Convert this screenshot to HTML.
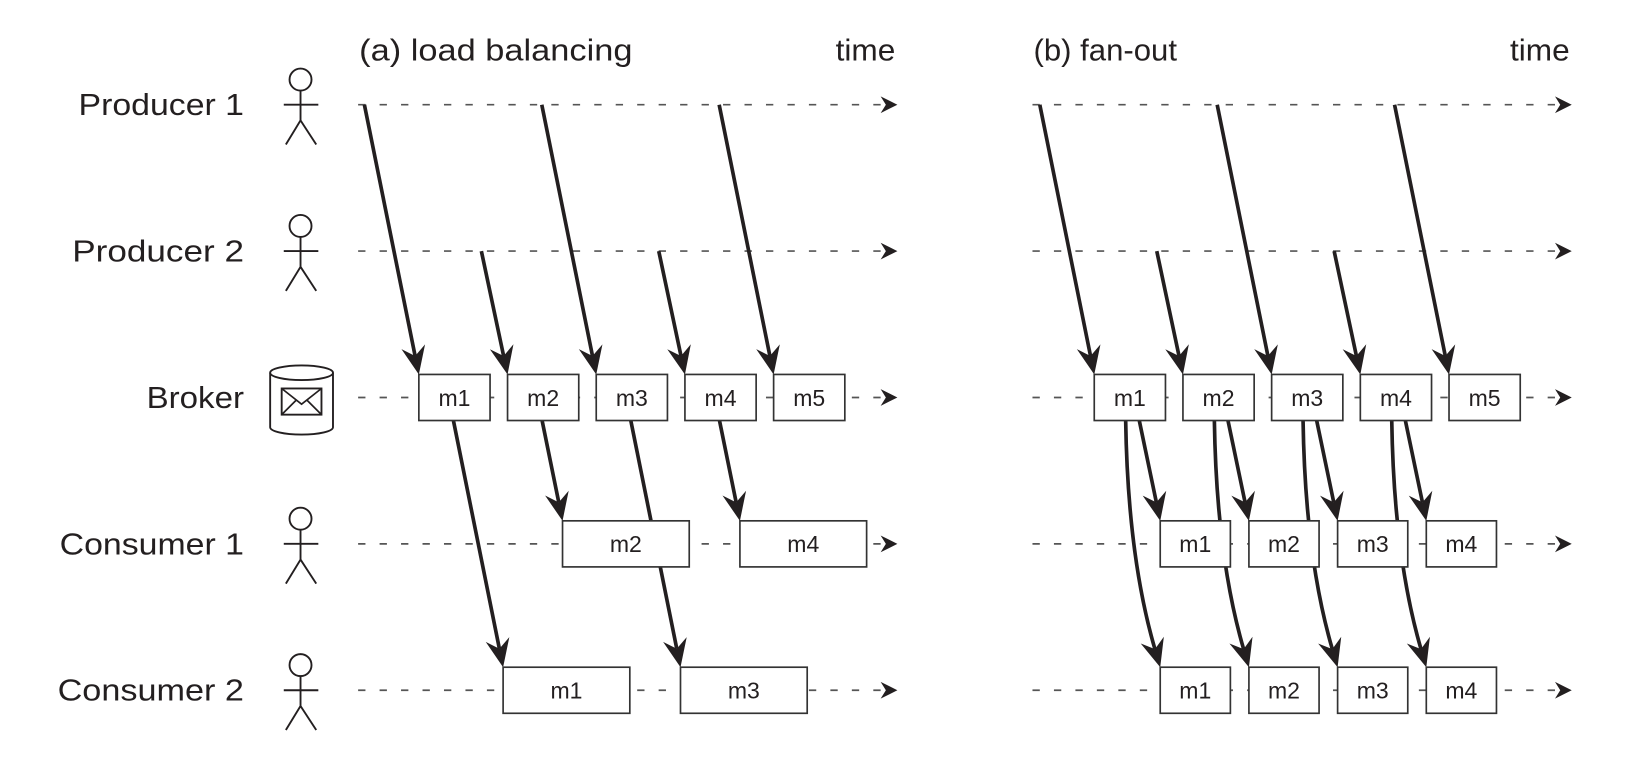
<!DOCTYPE html>
<html><head><meta charset="utf-8">
<style>
html,body{margin:0;padding:0;background:#fff;}
svg{display:block;}
text{font-family:"Liberation Sans",sans-serif;fill:#231f20;}
</style></head>
<body>
<svg id="chart" width="1644" height="778" viewBox="0 0 1570 743" preserveAspectRatio="none" xmlns="http://www.w3.org/2000/svg"></svg>
<script>
// ---- data ----
const rowNames = ["Producer 1","Producer 2","Broker","Consumer 1","Consumer 2"];
const messages = ["m1","m2","m3","m4","m5"];
const messageProducer = [1,2,1,2,1];           // which producer sends each message
const lbConsumer = [2,1,2,1];                   // load balancing: consumer receiving m1..m4
const lbConsumerSlot = [0.95,0.62,0.95,0.62];   // delay (in slots) before consumer starts
const fanoutMessages = ["m1","m2","m3","m4"];

// ---- layout helpers ----
const svg = document.getElementById('chart');
const NS = "http://www.w3.org/2000/svg";
const rowY = i => 100 + 139.8*i;
function mk(tag, parent){ const e=document.createElementNS(NS,tag); (parent||svg).appendChild(e); return e; }
function attrs(e,o){ for(const k in o) e.setAttribute(k,o[k]); return e; }

function arrowHead(x,y,angle,g){
  const p = mk('path',g);
  attrs(p,{d:"M0,0 L-27,-11.5 L-18,0 L-27,11.5 Z",fill:"#231f20",transform:`translate(${x},${y}) rotate(${angle})`});
  
  
}
function straightArrow(x1,y1,x2,y2,name){
  const g = mk('g');
  
  
  const a = Math.atan2(y2-y1,x2-x1);
  const l = mk('line',g);
  attrs(l,{x1,y1,x2:x2-18*Math.cos(a),y2:y2-18*Math.sin(a),stroke:"#231f20","stroke-width":3.5});
  arrowHead(x2,y2,a*180/Math.PI,g);
}
function curveArrow(x1,y1,x2,y2,name){
  const g = mk('g');
  
  
  const cx=x1+2, cy=y1+(y2-y1)*0.55;
  const a = Math.atan2(y2-cy,x2-cx);
  const ex=x2-18*Math.cos(a), ey=y2-18*Math.sin(a);
  const p = mk('path',g);
  attrs(p,{d:`M${x1},${y1} Q${cx},${cy} ${ex},${ey}`,fill:"none",stroke:"#231f20","stroke-width":3.5});
  arrowHead(x2,y2,a*180/Math.PI,g);
}
function timeline(x1,x2,y,name){
  const g = mk('g');
  
  
  const l = mk('line',g);
  attrs(l,{x1,y1:y,x2:x2-14,y2:y,stroke:"#555","stroke-width":1.6,"stroke-dasharray":"7 13.5"});
  const p = mk('path',g);
  attrs(p,{d:`M${x2},${y} L${x2-16},${y-8} L${x2-11},${y} L${x2-16},${y+8} Z`,fill:"#231f20"});
}
function box(x,y,w,label,name){
  const g = mk('g');
  
  
  const r = mk('rect',g);
  attrs(r,{x,y:y-22,width:w,height:44,fill:"#fff",stroke:"#333","stroke-width":1.6});
  const t = mk('text',g);
  attrs(t,{x:x+w/2,y:y+8,"text-anchor":"middle","font-size":22});
  t.textContent = label;
}
function text(x,y,s,size,anchor,len,name){
  const t = mk('text');
  attrs(t,{x,y,"font-size":size,"text-anchor":anchor});
  if(len){ t.setAttribute('textLength',len); t.setAttribute('lengthAdjust','spacingAndGlyphs'); }
  t.textContent = s;
  
  
}
function stick(y,name){
  const g = mk('g');
  
  
  const c = mk('circle',g); attrs(c,{cx:287,cy:y-24,r:10.5,fill:"none",stroke:"#231f20","stroke-width":1.8});
  const p = mk('path',g); attrs(p,{d:`M271,${y} H304 M287,${y-13.5} V${y+15} L273,${y+38} M287,${y+15} L302,${y+38}`,fill:"none",stroke:"#231f20","stroke-width":1.8});
}

// ---- labels ----
const labelLens=[158,164,93,176,178];
rowNames.forEach((n,i)=>{
  text(233,rowY(i)+10,n,29,"end",labelLens[i],"row-label-"+n.toLowerCase().replace(' ','-'));
  if(i!==2) stick(rowY(i),"actor-icon-"+n.toLowerCase().replace(' ','-'));
});
// broker cylinder
(function(){
  const g = mk('g');
  
  
  const y0=349,y1=415;
  const p=mk('path',g); attrs(p,{d:`M258,${y0+7} V${y1-7} A30,7 0 0 0 318,${y1-7} V${y0+7}`,fill:"none",stroke:"#231f20","stroke-width":1.8});
  const e=mk('ellipse',g); attrs(e,{cx:288,cy:y0+7,rx:30,ry:7,fill:"none",stroke:"#231f20","stroke-width":1.8});
  const r=mk('rect',g); attrs(r,{x:269,y:371,width:38,height:25,fill:"none",stroke:"#231f20","stroke-width":1.8});
  const l=mk('path',g); attrs(l,{d:"M269,371 L288,386 L307,371 M269,396 L283,382 M307,396 L293,382",fill:"none",stroke:"#231f20","stroke-width":1.6});
})();

text(343,58,"(a) load balancing",29,"start",261,"title-load-balancing");
text(855,58,"time",29,"end",57,"time-label-a");
text(987,58,"(b) fan-out",29,"start",137,"title-fan-out");
text(1499,58,"time",29,"end",57,"time-label-b");

// ---- timelines ----
for(let i=0;i<5;i++){
  timeline(342,857,rowY(i),"timeline-a-"+(i+1));
  timeline(986,1501,rowY(i),"timeline-b-"+(i+1));
}

// ---- panel A ----
const slotA = i => 400 + 84.7*i;
const slotB = i => 1045 + 84.7*i;
const BW=68, CW=121, FW=67;
messages.forEach((m,i)=>{
  const py = rowY(messageProducer[i]-1);
  const off = messageProducer[i]===1 ? 52 : 25;
  straightArrow(slotA(i)-off,py,slotA(i),rowY(2)-22,"send-arrow-a-"+m);
  straightArrow(slotB(i)-off,py,slotB(i),rowY(2)-22,"send-arrow-b-"+m);
});
lbConsumer.forEach((c,i)=>{
  const cx = slotA(i)+lbConsumerSlot[i]*84.7;
  straightArrow(slotA(i)+33,rowY(2)+22,cx,rowY(2+c)-22,"deliver-arrow-a-"+messages[i]);
});
messages.forEach((m,i)=>box(slotA(i),rowY(2),BW,m,"broker-box-a-"+m));
lbConsumer.forEach((c,i)=>{
  const cx = slotA(i)+lbConsumerSlot[i]*84.7;
  box(cx,rowY(2+c),CW,messages[i],"consumer"+c+"-box-a-"+messages[i]);
});

// ---- panel B ----
fanoutMessages.forEach((m,i)=>{
  const tx = slotB(i)+63;
  straightArrow(slotB(i)+43,rowY(2)+22,tx,rowY(3)-22,"fanout-arrow-c1-"+m);
  curveArrow(slotB(i)+30,rowY(2)+22,tx,rowY(4)-22,"fanout-arrow-c2-"+m);
});
messages.forEach((m,i)=>box(slotB(i),rowY(2),BW,m,"broker-box-b-"+m));
fanoutMessages.forEach((m,i)=>{
  box(slotB(i)+63,rowY(3),FW,m,"consumer1-box-b-"+m);
  box(slotB(i)+63,rowY(4),FW,m,"consumer2-box-b-"+m);
});
</script>
</body></html>
